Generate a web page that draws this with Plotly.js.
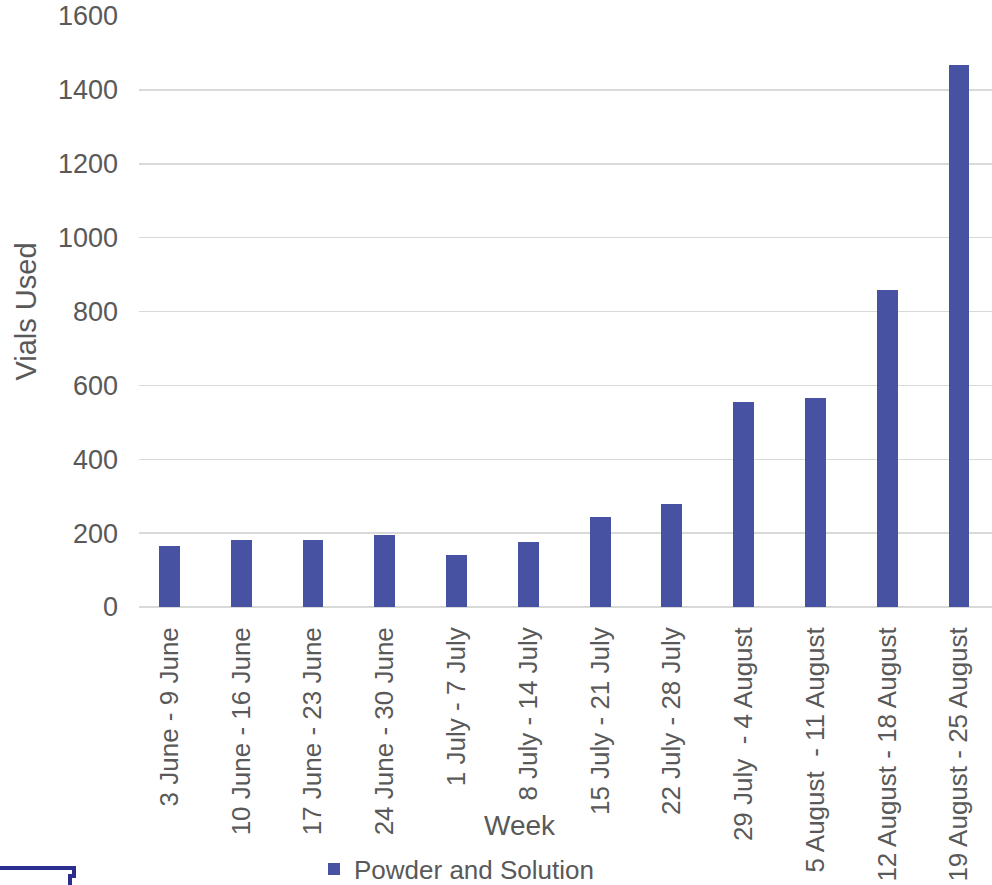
<!DOCTYPE html>
<html>
<head>
<meta charset="utf-8">
<script src="https://cdn.plot.ly/plotly-3.0.1.min.js"></script>
<style>
html,body{margin:0;padding:0;background:#fff;}
#chart{width:992px;height:885px;}
</style>
</head>
<body>
<div id="chart"></div>
<script>
const weeks = [
  "3 June - 9 June",
  "10 June - 16 June",
  "17 June - 23 June",
  "24 June - 30 June",
  "1 July - 7 July",
  "8 July - 14 July",
  "15 July - 21 July",
  "22 July - 28 July",
  "29 July  - 4 August",
  "5 August  - 11 August",
  "12 August - 18 August",
  "19 August - 25 August"
];
const vialsUsed = [164, 181, 181, 195, 141, 176, 243, 280, 554, 566, 859, 1467];
const seriesName = "Powder and Solution";
const yTicks = [0, 200, 400, 600, 800, 1000, 1200, 1400, 1600];

const W = 992, H = 885;
const M = {l: 139, r: 0, t: 16, b: 278, autoexpand: false};
const pw = W - M.l - M.r, ph = H - M.t - M.b;
const px = v => (v - M.l) / pw;
const py = v => (H - M.b - v) / ph;

const font = '"Liberation Sans", Arial, sans-serif';
const grey = '#595959';

const trace = {
  type: 'bar',
  x: weeks.map((w, i) => i),
  y: vialsUsed,
  name: seriesName,
  width: 0.29,
  marker: {color: '#4752a3', line: {width: 0}},
  showlegend: true,
  hoverinfo: 'y'
};

const layout = {
  width: W, height: H,
  margin: M,
  paper_bgcolor: '#fff', plot_bgcolor: '#fff',
  font: {family: font, color: grey, size: 26},
  showlegend: true,
  bargap: 0,
  xaxis: {
    range: [-0.425, 11.46],
    tickmode: 'array',
    tickvals: weeks.map((w, i) => i),
    ticktext: weeks,
    tickangle: -90,
    tickfont: {size: 26, color: grey, family: font},
    showgrid: false, zeroline: false, showline: false,
    ticks: '', ticklabelstandoff: 14,
    automargin: false,
    fixedrange: true
  },
  yaxis: {
    range: [0, 1600],
    tickmode: 'array',
    tickvals: yTicks,
    ticktext: yTicks.map(String),
    tickfont: {size: 27, color: grey, family: font},
    showgrid: true, gridcolor: '#d9d9d9', gridwidth: 1.5,
    zeroline: true, zerolinecolor: '#d9d9d9', zerolinewidth: 1.5,
    showline: false, ticks: '', ticklabelstandoff: 20,
    automargin: false,
    title: {text: 'Vials Used', font: {size: 29, color: grey, family: font}, standoff: 12},
    fixedrange: true
  },
  legend: {
    orientation: 'h',
    x: px(314), xanchor: 'left',
    y: py(869), yanchor: 'middle',
    font: {size: 26, color: grey, family: font},
    bgcolor: 'rgba(0,0,0,0)',
    itemwidth: 30
  },
  annotations: [{
    text: 'Week', showarrow: false,
    xref: 'paper', yref: 'paper',
    x: px(520), y: py(825), xanchor: 'center', yanchor: 'middle',
    font: {size: 28, color: grey, family: font}
  }],
  shapes: [{
    type: 'path', xref: 'paper', yref: 'paper',
    path: `M${px(-2)},${py(868)} L${px(74)},${py(868)} L${px(74)},${py(876)} L${px(70)},${py(876)} L${px(70)},${py(890)}`,
    line: {color: '#2b2e8e', width: 4}
  }]
};

Plotly.newPlot('chart', [trace], layout, {displayModeBar: false, staticPlot: true});
</script>
</body>
</html>
